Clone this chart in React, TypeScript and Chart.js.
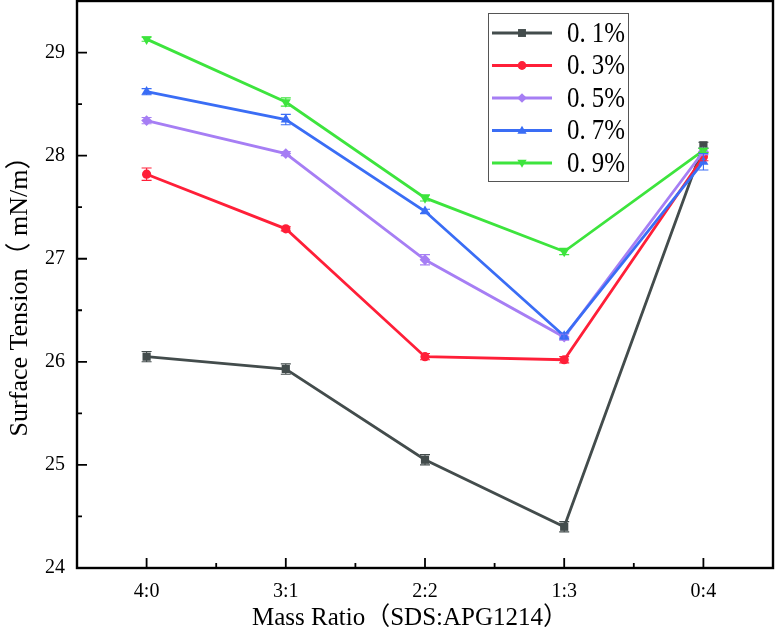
import React, { useEffect, useRef } from 'react';
import { Chart, registerables } from 'chart.js';

Chart.register(...registerables);

const categories = ['4:0', '3:1', '2:2', '1:3', '0:4'];
const seriesNames = ['0. 1%', '0. 3%', '0. 5%', '0. 7%', '0. 9%'];

const values01 = [26.05, 25.93, 25.05, 24.4, 28.1];
const values03 = [27.82, 27.29, 26.05, 26.02, 27.99];
const values05 = [28.34, 28.02, 26.99, 26.24, 28.04];
const values07 = [28.62, 28.35, 27.46, 26.25, 27.94];
const values09 = [29.13, 28.52, 27.59, 27.07, 28.05];

const errors01 = [0.05, 0.05, 0.05, 0.05, 0.03];
const errors03 = [0.06, 0.02, 0.03, 0.03, 0.04];
const errors05 = [0.03, 0.02, 0.05, 0.03, 0.03];
const errors07 = [0.03, 0.05, 0.02, 0.03, 0.08];
const errors09 = [0.02, 0.04, 0.03, 0.03, 0.02];

const yTickValues = [24, 25, 26, 27, 28, 29];
const yMin = 24;
const yMax = 29.5;

const xTitle = 'Mass Ratio（SDS:APG1214）';
const yTitle = 'Surface Tension（ mN/m）';

const allValues = [values01, values03, values05, values07, values09];
const allErrors = [errors01, errors03, errors05, errors07, errors09];

const colors = ['#434c4c', '#ff1f38', '#a67ef4', '#3a6df5', '#3de43d'];
const markerStyles = ['rect', 'circle', 'rectRot', 'triangle', 'triangle'];
const markerRotations = [0, 0, 0, 0, 180];
const markerRadii = [5.8, 4.6, 5.4, 5.8, 5.8];

const SERIF = '"Liberation Serif", "Times New Roman", "Noto Sans CJK SC", serif';

function drawMarker(ctx: CanvasRenderingContext2D, style: string, rot: number, x: number, y: number, r: number) {
  ctx.save();
  ctx.translate(x, y);
  ctx.rotate((rot * Math.PI) / 180);
  ctx.beginPath();
  if (style === 'rect') {
    ctx.rect(-r * 0.9, -r * 0.9, r * 1.8, r * 1.8);
  } else if (style === 'circle') {
    ctx.arc(0, 0, r, 0, Math.PI * 2);
  } else if (style === 'rectRot') {
    ctx.moveTo(0, -r * 1.1);
    ctx.lineTo(r * 1.1, 0);
    ctx.lineTo(0, r * 1.1);
    ctx.lineTo(-r * 1.1, 0);
    ctx.closePath();
  } else {
    ctx.moveTo(0, -r * 1.1);
    ctx.lineTo(r * 1.05, r * 0.75);
    ctx.lineTo(-r * 1.05, r * 0.75);
    ctx.closePath();
  }
  ctx.fill();
  ctx.restore();
}

const errorBarPlugin = {
  id: 'errorBars',
  afterDatasetsDraw(chart: any) {
    const ctx = chart.ctx as CanvasRenderingContext2D;
    const yScale = chart.scales.y;
    ctx.save();
    chart.data.datasets.forEach((ds: any, i: number) => {
      const meta = chart.getDatasetMeta(i);
      const errs = allErrors[i];
      ctx.strokeStyle = colors[i];
      ctx.lineWidth = 1.1;
      meta.data.forEach((el: any, j: number) => {
        const v = allValues[i][j];
        const e = errs[j];
        const x = el.x;
        const yt = yScale.getPixelForValue(v + e);
        const yb = yScale.getPixelForValue(v - e);
        ctx.beginPath();
        ctx.moveTo(x, yt);
        ctx.lineTo(x, yb);
        ctx.moveTo(x - 5, yt);
        ctx.lineTo(x + 5, yt);
        ctx.moveTo(x - 5, yb);
        ctx.lineTo(x + 5, yb);
        ctx.stroke();
      });
    });
    ctx.restore();
  },
};

const framePlugin = {
  id: 'frameTicks',
  afterDraw(chart: any) {
    const ctx = chart.ctx as CanvasRenderingContext2D;
    const { left, right, top, bottom } = chart.chartArea;
    const xs = chart.scales.x;
    const ys = chart.scales.y;
    ctx.save();
    ctx.strokeStyle = '#000';
    ctx.lineWidth = 2.4;
    ctx.strokeRect(left, top, right - left, bottom - top);
    ctx.lineWidth = 1.8;
    ctx.beginPath();
    categories.forEach((_, i) => {
      const px = xs.getPixelForValue(i);
      ctx.moveTo(px, bottom);
      ctx.lineTo(px, bottom - 10);
      if (i < categories.length - 1) {
        const mx = xs.getPixelForValue(i + 0.5);
        ctx.moveTo(mx, bottom);
        ctx.lineTo(mx, bottom - 5);
      }
    });
    yTickValues.forEach((v) => {
      const py = ys.getPixelForValue(v);
      ctx.moveTo(left, py);
      ctx.lineTo(left + 10, py);
      const my = ys.getPixelForValue(v + 0.5);
      if (v + 0.5 < yMax) {
        ctx.moveTo(left, my);
        ctx.lineTo(left + 5, my);
      }
    });
    ctx.stroke();

    // axis titles
    ctx.fillStyle = '#000';
    ctx.font = `25px ${SERIF}`;
    ctx.textAlign = 'center';
    ctx.textBaseline = 'middle';
    ctx.fillText(xTitle, 410, 618);
    ctx.save();
    ctx.translate(20, 290);
    ctx.rotate(-Math.PI / 2);
    ctx.font = `26px ${SERIF}`;
    ctx.fillText(yTitle, 0, 0);
    ctx.restore();

    // legend
    const bx = 488.5, by = 13.5, bw = 140, bh = 168;
    ctx.fillStyle = '#fff';
    ctx.fillRect(bx, by, bw, bh);
    ctx.strokeStyle = '#555';
    ctx.lineWidth = 1;
    ctx.strokeRect(bx, by, bw, bh);
    seriesNames.forEach((name, i) => {
      const ly = 33 + i * 32.5;
      ctx.strokeStyle = colors[i];
      ctx.lineWidth = 2.8;
      ctx.beginPath();
      ctx.moveTo(492, ly);
      ctx.lineTo(552, ly);
      ctx.stroke();
      ctx.fillStyle = colors[i];
      drawMarker(ctx, markerStyles[i], markerRotations[i], 522, ly, 4.4);
      ctx.fillStyle = '#000';
      ctx.font = `30px ${SERIF}`;
      ctx.textAlign = 'left';
      ctx.textBaseline = 'middle';
      ctx.fillText(name, 567, ly + 1, 58);
    });
    ctx.restore();
  },
};

export default function App() {
  const canvasRef = useRef<HTMLCanvasElement | null>(null);

  useEffect(() => {
    const canvas = canvasRef.current;
    if (!canvas) return;
    const datasets = allValues.map((vals, i) => ({
      label: seriesNames[i],
      data: vals.map((v, j) => ({ x: j, y: v })),
      borderColor: colors[i],
      backgroundColor: colors[i],
      borderWidth: 2.8,
      pointStyle: markerStyles[i],
      pointRotation: markerRotations[i],
      pointRadius: markerRadii[i],
      pointBorderWidth: 0,
      order: allValues.length - i,
      tension: 0,
    }));
    const chart = new Chart(canvas, {
      type: 'line',
      data: { datasets },
      options: {
        animation: false,
        responsive: false,
        devicePixelRatio: 1,
        layout: { autoPadding: false, padding: { top: 1, right: 3, left: 0, bottom: 0 } },
        plugins: { legend: { display: false }, tooltip: { enabled: false } },
        scales: {
          x: {
            type: 'linear',
            min: -0.5,
            max: 4.5,
            afterBuildTicks: (scale: any) => {
              scale.ticks = categories.map((_, i) => ({ value: i }));
            },
            afterFit: (scale: any) => {
              scale.height = 63;
              scale.paddingLeft = 0;
              scale.paddingRight = 0;
              scale.paddingTop = 0;
              scale.paddingBottom = 0;
            },
            grid: { display: false, drawTicks: false },
            border: { display: false },
            ticks: {
              padding: 12,
              maxRotation: 0,
              autoSkip: false,
              color: '#000',
              font: { family: SERIF, size: 20 },
              callback: (v: any) => categories[Math.round(Number(v))] ?? '',
            },
          },
          y: {
            type: 'linear',
            min: yMin,
            max: yMax,
            afterBuildTicks: (scale: any) => {
              scale.ticks = yTickValues.map((v) => ({ value: v }));
            },
            afterFit: (scale: any) => {
              scale.width = 77;
              scale.paddingTop = 0;
              scale.paddingBottom = 0;
              scale.paddingLeft = 0;
              scale.paddingRight = 0;
            },
            grid: { display: false, drawTicks: false },
            border: { display: false },
            ticks: {
              padding: 12,
              color: '#000',
              font: { family: SERIF, size: 20 },
              callback: (v: any) => String(v),
            },
          },
        },
      },
      plugins: [errorBarPlugin, framePlugin],
    } as any);
    return () => chart.destroy();
  }, []);

  return (
    <div style={{ position: 'absolute', left: 0, top: 0, width: 776, height: 631, background: '#fff' }}>
      <canvas ref={canvasRef} width={776} height={631} style={{ width: 776, height: 631, display: 'block' }} />
    </div>
  );
}
